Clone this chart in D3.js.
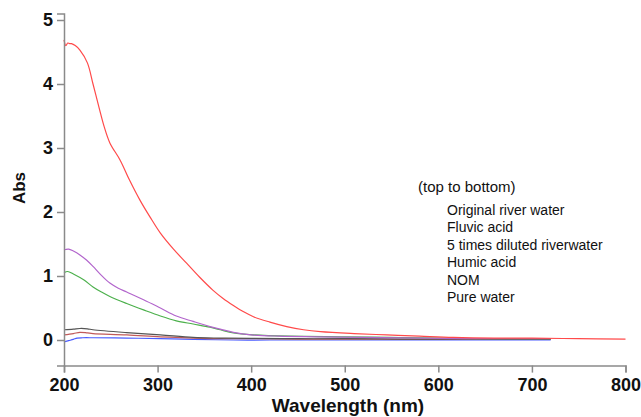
<!DOCTYPE html>
<html>
<head>
<meta charset="utf-8">
<script src="https://cdn.jsdelivr.net/npm/d3@7"></script>
<style>
  body { margin: 0; background: #fff; }
  svg { display: block; font-family: "Liberation Sans", Arial, sans-serif; }
</style>
</head>
<body>
<div id="chart"></div>
<script>
// absorbance spectra
const riverWl = [200,202,204,206,208,212,217,225,231,238,243,249,260,270,281,292,303,317,331,345,359,370,381,392,403,420,438,456,474,510,545,580,616,660,700,750,800]
const riverAbs = [4.69,4.6,4.64,4.63,4.63,4.6,4.53,4.33,4.0,3.6,3.33,3.08,2.81,2.5,2.19,1.92,1.67,1.42,1.2,0.98,0.78,0.65,0.54,0.44,0.36,0.28,0.21,0.16,0.13,0.1,0.08,0.06,0.04,0.03,0.03,0.02,0.015]

const fulvicWl = [200,205,210,217,224,231,240,249,258,267,285,303,320,338,356,367,381,400,430,470,520,580,650,720]
const fulvicAbs = [1.41,1.42,1.39,1.33,1.25,1.15,1.01,0.89,0.81,0.75,0.63,0.5,0.375,0.29,0.21,0.17,0.12,0.08,0.06,0.05,0.04,0.03,0.02,0.02]

const dilutedWl = [200,204,210,221,231,240,249,267,285,303,320,338,356,367,381,403,442,500,549,600,660,720]
const dilutedAbs = [1.05,1.07,1.03,0.94,0.83,0.75,0.68,0.57,0.47,0.375,0.3,0.25,0.2,0.16,0.11,0.08,0.06,0.05,0.04,0.03,0.02,0.02]

const humicWl = [200,210,217,225,231,267,303,338,367,400,450,500,560,620,680,720]
const humicAbs = [0.16,0.17,0.18,0.175,0.16,0.115,0.08,0.04,0.03,0.025,0.02,0.02,0.015,0.015,0.01,0.01]

const nomWl = [200,210,217,225,231,267,303,338,367,400,450,500,560,620,680,720]
const nomAbs = [0.08,0.1,0.12,0.11,0.1,0.08,0.05,0.03,0.02,0.02,0.015,0.015,0.01,0.01,0.01,0.01]

const waterWl = [200,205,210,214,220,231,267,303,338,381,420,480,540,600,660,720]
const waterAbs = [-0.03,-0.01,0.01,0.03,0.035,0.035,0.03,0.02,0.01,0,0,0,0,0,0,0]

const xTicks = [200,300,400,500,600,700,800]
const yTicks = [0,1,2,3,4,5]

const legendTitle = "(top to bottom)"
const legendNames = ["Original river water","Fluvic acid","5 times diluted riverwater","Humic acid","NOM","Pure water"]

// drawing order: bottom first
const series = [
    {wl: waterWl, abs: waterAbs, color: "#4a5cff"},
    {wl: nomWl, abs: nomAbs, color: "#c05a5a"},
    {wl: humicWl, abs: humicAbs, color: "#555555"},
    {wl: dilutedWl, abs: dilutedAbs, color: "#4cb04c"},
    {wl: fulvicWl, abs: fulvicAbs, color: "#b265cc"},
    {wl: riverWl, abs: riverAbs, color: "#ff4a4a"}
]

const width = 641, height = 417
const axisColor = "#8a8a8a"

const x = d3.scaleLinear().domain([200, 800]).range([64, 625.5])
const y = d3.scaleLinear().domain([-0.4, 5.1]).range([365.6, 13.6])

const svg = d3.select("#chart").append("svg")
    .attr("width", width)
    .attr("height", height)

const line = d3.line()
    .x(d => x(d[0]))
    .y(d => y(d[1]))
    .curve(d3.curveCatmullRom.alpha(0.5))

svg.append("g")
    .selectAll("path")
    .data(series)
    .join("path")
    .attr("fill", "none")
    .attr("stroke", d => d.color)
    .attr("stroke-width", 1.2)
    .attr("d", d => line(d.wl.map((w, i) => [w, d.abs[i]])))

// x axis
const gx = svg.append("g")
    .attr("transform", `translate(0,${y(-0.4)})`)
    .call(d3.axisBottom(x).tickValues(xTicks).tickSize(7).tickPadding(6).tickFormat(d3.format("d")))
gx.select(".domain").attr("stroke", axisColor).attr("stroke-width", 1.5)
gx.selectAll(".tick line").attr("stroke", axisColor).attr("stroke-width", 1.5)
gx.selectAll(".tick text")
    .attr("font-size", 18)
    .attr("font-weight", "bold")
    .attr("font-family", "Liberation Sans, Arial, sans-serif")
    .attr("fill", "#111")

// y axis
const gy = svg.append("g")
    .attr("transform", `translate(${x(200)},0)`)
    .call(d3.axisLeft(y).tickValues(yTicks).tickSize(7).tickPadding(4).tickFormat(d3.format("d")))
gy.select(".domain").attr("stroke", axisColor).attr("stroke-width", 1.5)
gy.selectAll(".tick line").attr("stroke", axisColor).attr("stroke-width", 1.5)
gy.selectAll(".tick text")
    .attr("font-size", 18)
    .attr("font-weight", "bold")
    .attr("font-family", "Liberation Sans, Arial, sans-serif")
    .attr("fill", "#111")

// axis titles
svg.append("text")
    .attr("transform", "translate(25,188) rotate(-90)")
    .attr("text-anchor", "middle")
    .attr("font-size", 17)
    .attr("font-weight", "bold")
    .attr("fill", "#111")
    .text("Abs")

svg.append("text")
    .attr("x", 348)
    .attr("y", 412)
    .attr("text-anchor", "middle")
    .attr("font-size", 19)
    .attr("font-weight", "bold")
    .attr("fill", "#111")
    .text("Wavelength (nm)")

// legend (text only)
svg.append("text")
    .attr("x", 418)
    .attr("y", 192)
    .attr("font-size", 15)
    .attr("fill", "#111")
    .text(legendTitle)

svg.append("g")
    .selectAll("text")
    .data(legendNames)
    .join("text")
    .attr("x", 447)
    .attr("y", (d, i) => 215 + i * 17.4)
    .attr("font-size", 14)
    .attr("fill", "#111")
    .text(d => d)
</script>
</body>
</html>
